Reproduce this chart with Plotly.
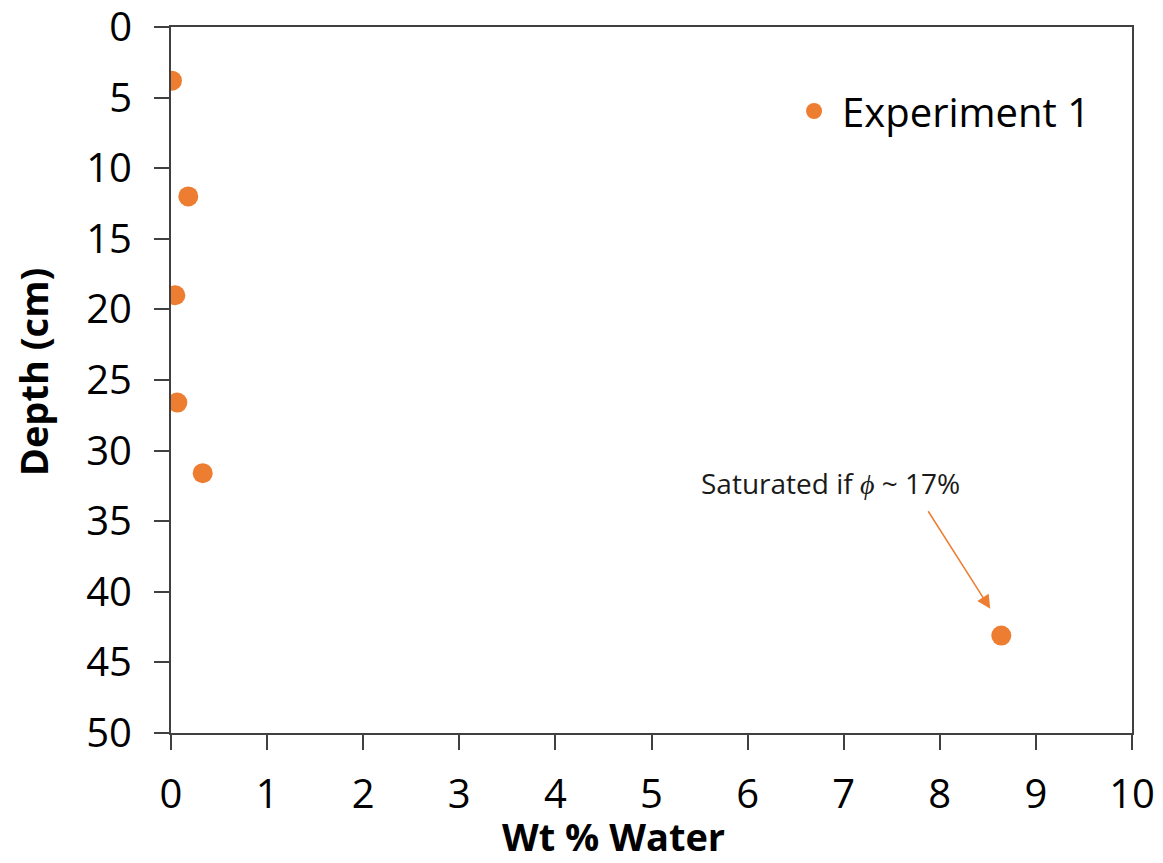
import plotly.graph_objects as go

# Data
wt_water = [0.01, 0.18, 0.045, 0.066, 0.33, 8.64]
depth_cm = [3.8, 12.0, 19.0, 26.6, 31.6, 43.1]
series_name = "Experiment 1"
x_tick0, x_dtick = 0, 1
y_tick0, y_dtick = 0, 5

ORANGE = "#ED7D31"
AXIS = "#404040"
FONT = "Open Sans"

fig = go.Figure()
fig.add_trace(go.Scatter(
    x=wt_water, y=depth_cm, mode="markers", name=series_name,
    marker=dict(color=ORANGE, size=20, line=dict(width=0)),
))

axis_common = dict(
    showline=True, linecolor=AXIS, linewidth=2, mirror=True,
    ticks="outside", ticklen=15, tickwidth=2, tickcolor=AXIS,
    showgrid=False, zeroline=False, tickmode="linear",
    ticklabeloverflow="allow", automargin=False,
    tickfont=dict(family=FONT, size=40, color="black"),
)

fig.update_layout(
    width=1163, height=863,
    margin=dict(l=171, r=31, t=27, b=130),
    paper_bgcolor="white", plot_bgcolor="white",
    font=dict(family=FONT, color="black"),
    xaxis=dict(range=[0, 10], tick0=x_tick0, dtick=x_dtick, ticklabelstandoff=10, **axis_common),
    yaxis=dict(range=[50, 0], tick0=y_tick0, dtick=y_dtick, ticklabelstandoff=14, **axis_common),
    showlegend=True,
    legend=dict(x=0.64, y=0.881, xanchor="left", yanchor="middle",
                itemwidth=46,
                font=dict(family=FONT, size=40, color="black"),
                bgcolor="rgba(0,0,0,0)"),
    annotations=[
        dict(text="<b>Wt % Water</b>", xref="paper", yref="paper",
             x=0.46, y=0, yshift=-103, xanchor="center", yanchor="middle",
             showarrow=False, font=dict(family=FONT, size=38, color="black")),
        dict(text="<b>Depth (cm)</b>", xref="paper", yref="paper",
             x=0, xshift=-138, y=0.511, xanchor="center", yanchor="middle",
             textangle=-90, showarrow=False,
             font=dict(family=FONT, size=38, color="black")),
        dict(text="Saturated if <i>ϕ</i> ~ 17%", x=6.86, y=32.3,
             xref="x", yref="y", showarrow=False,
             font=dict(family=FONT, size=28, color="#1a1a1a")),
        dict(text="", x=8.525, y=41.2, xref="x", yref="y",
             showarrow=True, ax=-63, ay=-99, arrowhead=2, arrowsize=1.8,
             arrowwidth=1.5, arrowcolor=ORANGE, standoff=0),
    ],
)

fig.write_html("out.html")
